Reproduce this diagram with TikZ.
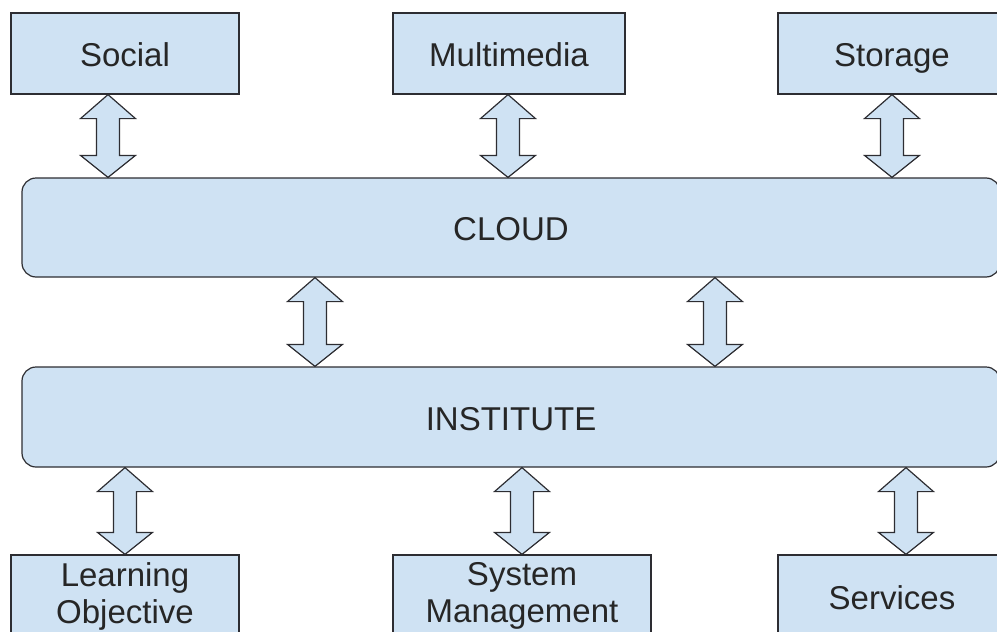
\documentclass[tikz,border=0pt]{standalone}
\usepackage{fontspec}
\setmainfont{Liberation Sans}
\usetikzlibrary{calc}

\definecolor{boxblue}{RGB}{207,226,243}
\definecolor{edgegray}{RGB}{45,45,50}

\tikzset{
  block/.style={draw=edgegray, line width=1.2pt, fill=boxblue, text=black!85,
    inner sep=0pt, align=center, font=\fontsize{33}{37}\selectfont},
  oneline/.style={block, text height=30pt, text depth=4pt},
  band/.style={oneline, rounded corners=14pt},
  twoway/.style={draw=edgegray, line width=1.2pt, fill=boxblue, line join=miter}
}

% double-headed block arrow: upper node, lower node, column coordinate
\newcommand{\twoway}[3]{%
  \path (#1.south -| #3) coordinate (tp) (#2.north -| #3) coordinate (bt);
  \draw[twoway] (tp) -- ++(27.5,24) -- ++(-16,0) -- ($(bt)+(11.5,-22)$) -- ++(16,0)
    -- (bt) -- ++(-27.5,-22) -- ++(16,0) -- ($(tp)+(-11.5,24)$) -- ++(-16,0) -- cycle;}

\begin{document}
\begin{tikzpicture}[x=1pt,y=1pt,yscale=-1,xscale=1]
\useasboundingbox (0,0) rectangle (997,632);
\clip (0,0) rectangle (997,632);

% top row
\node[oneline, minimum width=228, minimum height=81] (social) at (125,53.5) {Social};
\node[oneline, minimum width=232, minimum height=81] (media) at (509,53.5) {Multimedia};
\node[oneline, minimum width=228, minimum height=81] (storage) at (892,53.5) {Storage};

% middle bands
\node[band, minimum width=978, minimum height=99] (cloud) at (511,227.5) {CLOUD};
\node[band, minimum width=978, minimum height=100] (institute) at (511,417) {INSTITUTE};

% bottom row
\node[block, minimum width=228, minimum height=82] (learning) at (125,596) {Learning\\Objective};
\node[block, minimum width=258, minimum height=82] (system) at (522,596) {System\\Management};
\node[oneline, minimum width=228, minimum height=82] (services) at (892,596) {Services};

% arrow columns
\coordinate (k1) at (108,0);
\coordinate (k2) at (508,0);
\coordinate (k3) at (892,0);
\coordinate (k4) at (315,0);
\coordinate (k5) at (715,0);
\coordinate (k6) at (125,0);
\coordinate (k7) at (522,0);
\coordinate (k8) at (906,0);

\twoway{social}{cloud}{k1}
\twoway{media}{cloud}{k2}
\twoway{storage}{cloud}{k3}
\twoway{cloud}{institute}{k4}
\twoway{cloud}{institute}{k5}
\twoway{institute}{learning}{k6}
\twoway{institute}{system}{k7}
\twoway{institute}{services}{k8}

\end{tikzpicture}
\end{document}
